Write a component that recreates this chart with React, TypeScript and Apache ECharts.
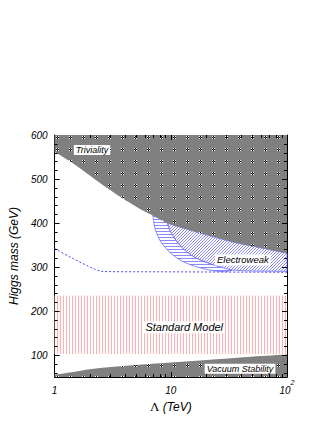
import React, { useEffect, useRef } from 'react';
import * as echarts from 'echarts';

// ---- data (Λ in TeV, Higgs mass in GeV) ----
const X_MIN = 1;
const X_MAX = 100;
const Y_MIN = 50;
const Y_MAX = 600;

const X_TICK_LABELS: Record<number, string> = { 1: '{b|1}', 10: '{b|10}', 100: '{b|10}{s|2}' };
const Y_TICK_LABELS = [100, 200, 300, 400, 500, 600];

const X_MAJOR_TICKS = [10];
const X_MINOR_TICKS = [2, 3, 4, 5, 6, 7, 8, 9, 20, 30, 40, 50, 60, 70, 80, 90];
const Y_MAJOR_TICKS = [100, 200, 300, 400, 500];
const Y_MINOR_TICKS = [60, 80, 120, 140, 160, 180, 220, 240, 260, 280, 320, 340, 360, 380, 420, 440, 460, 480, 520, 540, 560, 580];

// triviality bound (upper region above this curve)
const trivialityCurve: [number, number][] = [
  [1, 562], [1.51, 532], [2.85, 479], [5.04, 437], [7.38, 414], [9.5, 399],
  [17.9, 377], [33.8, 357], [63.5, 342], [100, 331],
];
// vacuum stability bound (lower region below this curve)
const vacuumCurve: [number, number][] = [
  [1, 55], [1.5, 62], [2.36, 70], [6.1, 79], [19, 88], [49, 96], [100, 101],
];
// electroweak boundaries
const ewOuter: [number, number][] = [
  [7.0, 418], [7.38, 384], [8.38, 354], [10.8, 324], [14.8, 305], [21.7, 293], [29.6, 289],
];
const ewInner: [number, number][] = [
  [9.21, 404], [10.1, 377], [12.3, 346], [15.8, 323], [23.1, 305], [33.8, 293], [100, 290],
];
// dashed line
const dashedLine: [number, number][] = [
  [1, 342], [1.42, 320], [1.95, 302], [2.4, 292], [3, 289.5], [10, 289], [100, 288],
];
// standard model band
const smBand = { xFrom: 1, xTo: 100, yFrom: 102, yTo: 235 };

// labels
const LABEL_TEXT = ['Triviality', 'Electroweak', 'Standard Model', 'Vacuum Stability'];
const LABEL_X = [2.1, 41.7, 13.05, 39.4];
const LABEL_Y = [566, 316, 163, 69];
const LABEL_SIZE = [9, 9.5, 11, 9];

const FONT = '"Liberation Sans", Arial, Helvetica, sans-serif';

function makeTile(w: number, h: number, bg: string | null, pixels: [number, number, string][]) {
  const c = document.createElement('canvas');
  c.width = w;
  c.height = h;
  const ctx = c.getContext('2d')!;
  if (bg) {
    ctx.fillStyle = bg;
    ctx.fillRect(0, 0, w, h);
  }
  for (const [x, y, col] of pixels) {
    ctx.fillStyle = col;
    ctx.fillRect(x, y, 1, 1);
  }
  return { image: c.toDataURL(), repeat: 'repeat', imageWidth: w, imageHeight: h } as any;
}

// Catmull-Rom style cubic segments through pixel points (current point = p[0])
function smoothSegs(p: number[][]): string {
  let d = '';
  for (let i = 0; i < p.length - 1; i++) {
    const p0 = p[Math.max(i - 1, 0)];
    const p1 = p[i];
    const p2 = p[i + 1];
    const p3 = p[Math.min(i + 2, p.length - 1)];
    const c1x = p1[0] + (p2[0] - p0[0]) / 6;
    const c1y = p1[1] + (p2[1] - p0[1]) / 6;
    const c2x = p2[0] - (p3[0] - p1[0]) / 6;
    const c2y = p2[1] - (p3[1] - p1[1]) / 6;
    d += ` C ${c1x} ${c1y} ${c2x} ${c2y} ${p2[0]} ${p2[1]}`;
  }
  return d;
}

type Piece = { pts: [number, number][]; smooth: boolean };

export default function App() {
  const ref = useRef<HTMLDivElement>(null);

  useEffect(() => {
    const chart = echarts.init(ref.current!, null, { renderer: 'svg' });

    const W = '#ffffff';
    const K = '#000000';
    const dots = makeTile(13, 12, '#808080', [
      [4, 4, W], [5, 4, K], [6, 4, W],
      [4, 5, K], [6, 5, K],
      [4, 6, W], [5, 6, K], [6, 6, W],
    ]);
    const RED = '#ffb0b0';
    const redLines = makeTile(3, 1, '#ffffff', [[0, 0, RED]]);
    const BLUE = '#8a8aff';
    const blueDiag = makeTile(3, 3, '#ffffff', [[0, 2, BLUE], [1, 1, BLUE], [2, 0, BLUE]]);
    const blueHoriz = makeTile(1, 3, '#ffffff', [[0, 0, BLUE]]);

    const rev = (a: [number, number][]) => [...a].reverse();
    const innerStart = ewInner[0][0];
    const outerStart = ewOuter[0][0];

    const smRegion: Piece[] = [
      {
        pts: [
          [smBand.xFrom, smBand.yFrom], [smBand.xTo, smBand.yFrom],
          [smBand.xTo, smBand.yTo], [smBand.xFrom, smBand.yTo],
        ],
        smooth: false,
      },
    ];
    const trivRegion: Piece[] = [
      { pts: [[X_MIN, Y_MAX], [X_MAX, Y_MAX]], smooth: false },
      { pts: rev(trivialityCurve), smooth: true },
    ];
    const vacRegion: Piece[] = [
      { pts: [[X_MAX, Y_MIN], [X_MIN, Y_MIN]], smooth: false },
      { pts: vacuumCurve, smooth: true },
    ];
    const ewMainRegion: Piece[] = [
      { pts: ewInner, smooth: true },
      { pts: rev(trivialityCurve.filter((p) => p[0] > innerStart)), smooth: true },
    ];
    const ewBandRegion: Piece[] = [
      { pts: ewOuter, smooth: true },
      { pts: rev(ewInner.filter((p) => p[0] < 40)), smooth: true },
      { pts: rev(trivialityCurve.filter((p) => p[0] > outerStart && p[0] < innerStart)), smooth: false },
    ];

    const buildPath = (pieces: Piece[], api: any, close: boolean) => {
      let d = '';
      pieces.forEach((pc, k) => {
        const px = pc.pts.map((p) => api.coord(p));
        d += k === 0 ? `M ${px[0][0]} ${px[0][1]}` : ` L ${px[0][0]} ${px[0][1]}`;
        if (pc.smooth) d += smoothSegs(px);
        else for (let i = 1; i < px.length; i++) d += ` L ${px[i][0]} ${px[i][1]}`;
      });
      if (close) d += ' Z';
      return d;
    };

    const regionSeries = (pieces: Piece[], fill: any, stroke: string | null, lw = 0.8) => ({
      type: 'custom',
      data: [[X_MIN, Y_MAX]],
      silent: true,
      z: 2,
      renderItem: (_params: any, api: any) => ({
        type: 'path',
        shape: { pathData: buildPath(pieces, api, true) },
        style: { fill, stroke: stroke || 'none', lineWidth: stroke ? lw : 0 },
      }),
    });

    const tickSeries = (values: number[], axis: 'x' | 'y', len: number) => ({
      type: 'custom',
      silent: true,
      z: 10,
      data: values.map((v) => (axis === 'x' ? [v, Y_MIN] : [X_MIN, v])),
      renderItem: (_params: any, api: any) => {
        const ls = { stroke: '#000', lineWidth: 1 };
        if (axis === 'x') {
          const v = api.value(0);
          const b = api.coord([v, Y_MIN]);
          const t = api.coord([v, Y_MAX]);
          const x = Math.round(b[0]) + 0.5;
          return {
            type: 'group',
            children: [
              { type: 'line', shape: { x1: x, y1: b[1], x2: x, y2: b[1] - len }, style: ls },
              { type: 'line', shape: { x1: x, y1: t[1], x2: x, y2: t[1] + len }, style: ls },
            ],
          };
        }
        const v = api.value(1);
        const l = api.coord([X_MIN, v]);
        const r = api.coord([X_MAX, v]);
        const y = Math.round(l[1]) + 0.5;
        return {
          type: 'group',
          children: [
            { type: 'line', shape: { x1: l[0], y1: y, x2: l[0] + len, y2: y }, style: ls },
            { type: 'line', shape: { x1: r[0], y1: y, x2: r[0] - len, y2: y }, style: ls },
          ],
        };
      },
    });

    const axisLine = { show: true, lineStyle: { color: '#000', width: 1 } };

    const option: any = {
      animation: false,
      backgroundColor: '#ffffff',
      grid: { left: 45, right: 40, top: 135, bottom: 46, containLabel: false },
      xAxis: [
        {
          type: 'log',
          logBase: 10,
          min: X_MIN,
          max: X_MAX,
          position: 'bottom',
          axisLine,
          axisTick: { show: false },
          minorTick: { show: false },
          splitLine: { show: false },
          axisLabel: {
            formatter: (v: number) => X_TICK_LABELS[Math.round(v)] ?? '',
            color: '#000',
            margin: 2,
            rich: {
              b: { fontFamily: FONT, fontStyle: 'italic', fontSize: 10, lineHeight: 16, verticalAlign: 'bottom', color: '#000' },
              s: { fontFamily: FONT, fontStyle: 'italic', fontSize: 7, lineHeight: 9, verticalAlign: 'top', color: '#000' },
            },
          },
          name: '{g|Λ} {i|(TeV)}',
          nameLocation: 'middle',
          nameGap: 23,
          nameTextStyle: {
            color: '#000',
            rich: {
              g: { fontFamily: '"Liberation Serif", "DejaVu Serif", serif', fontSize: 13, color: '#000' },
              i: { fontFamily: FONT, fontStyle: 'italic', fontSize: 12, color: '#000' },
            },
          },
        },
        {
          type: 'log',
          logBase: 10,
          min: X_MIN,
          max: X_MAX,
          position: 'top',
          axisLine,
          axisTick: { show: false },
          splitLine: { show: false },
          axisLabel: { show: false },
        },
      ],
      yAxis: [
        {
          type: 'value',
          min: Y_MIN,
          max: Y_MAX,
          interval: 50,
          position: 'left',
          axisLine,
          axisTick: { show: false },
          splitLine: { show: false },
          axisLabel: {
            formatter: (v: number) => (Y_TICK_LABELS.includes(v) ? String(v) : ''),
            fontFamily: FONT,
            fontStyle: 'italic',
            fontSize: 10,
            color: '#000',
            margin: 7,
          },
          name: 'Higgs mass (GeV)',
          nameLocation: 'middle',
          nameGap: 27,
          nameTextStyle: { fontFamily: FONT, fontStyle: 'italic', fontSize: 12, color: '#000' },
        },
        {
          type: 'value',
          min: Y_MIN,
          max: Y_MAX,
          interval: 50,
          position: 'right',
          axisLine,
          axisTick: { show: false },
          splitLine: { show: false },
          axisLabel: { show: false },
        },
      ],
      series: [
        regionSeries(smRegion, redLines, null),
        regionSeries(ewMainRegion, blueDiag, '#6a6aff'),
        regionSeries(ewBandRegion, blueHoriz, '#6a6aff'),
        regionSeries(trivRegion, dots, null),
        regionSeries(vacRegion, dots, null),
        {
          type: 'custom',
          data: dashedLine,
          silent: true,
          z: 3,
          renderItem: (params: any, api: any) => {
            if (params.dataIndex !== 0) return null;
            return {
              type: 'path',
              shape: { pathData: buildPath([{ pts: dashedLine, smooth: true }], api, false) },
              style: { fill: 'none', stroke: '#4a4aff', lineWidth: 1, lineDash: [2, 2] },
            };
          },
        },
        {
          type: 'custom',
          silent: true,
          z: 9,
          data: LABEL_TEXT.map((_t, i) => [LABEL_X[i], LABEL_Y[i]]),
          renderItem: (params: any, api: any) => {
            const i = params.dataIndex;
            const p = api.coord([api.value(0), api.value(1)]);
            return {
              type: 'text',
              x: p[0],
              y: p[1],
              style: {
                text: LABEL_TEXT[i],
                font: `italic ${LABEL_SIZE[i]}px ${FONT}`,
                fill: '#000',
                align: 'center',
                verticalAlign: 'middle',
                backgroundColor: '#ffffff',
                padding: [1, 2, 0, 2],
              },
            };
          },
        },
        tickSeries(X_MAJOR_TICKS, 'x', 5),
        tickSeries(X_MINOR_TICKS, 'x', 3),
        tickSeries(Y_MAJOR_TICKS, 'y', 5),
        tickSeries(Y_MINOR_TICKS, 'y', 3),
      ],
    };

    chart.setOption(option);
    return () => chart.dispose();
  }, []);

  return (
    <div
      ref={ref}
      style={{ position: 'fixed', left: 0, top: 0, width: 327, height: 423 }}
    />
  );
}
